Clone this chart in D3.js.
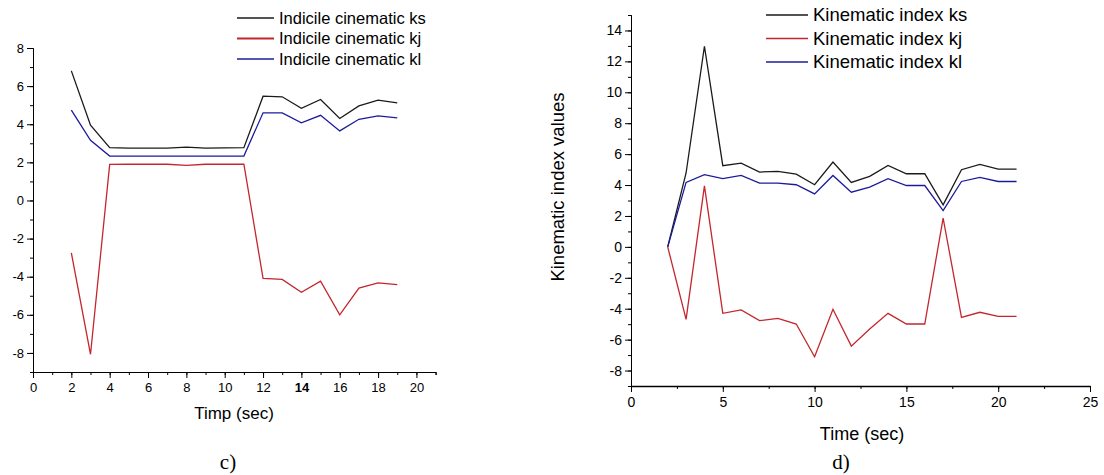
<!DOCTYPE html>
<html>
<head>
<meta charset="utf-8">
<title>Kinematic indices</title>
<style>
  body { margin: 0; background: #fff; }
  svg { display: block; font-family: "Liberation Sans", Arial, sans-serif; }
  .axis path, .axis line { stroke: #000; }
  .axis text { fill: #000; }
  .caption { font-family: "Liberation Serif", "Times New Roman", serif; font-size: 21px; }
</style>
<script src="https://d3js.org/d3.v7.min.js"></script>
</head>
<body>
<svg id="chart" width="1104" height="475"></svg>
<script>
// ---- panel c) ----
var timeC = [2, 3, 4, 5, 6, 7, 8, 9, 10, 11, 12, 13, 14, 15, 16, 17, 18, 19];
var ksC = [6.8, 3.95, 2.77, 2.75, 2.75, 2.75, 2.8, 2.75, 2.76, 2.77, 5.47, 5.44, 4.84, 5.3, 4.3, 4.96, 5.26, 5.12];
var kjC = [-2.75, -8.07, 1.89, 1.9, 1.9, 1.9, 1.84, 1.9, 1.9, 1.9, -4.09, -4.14, -4.82, -4.23, -6.0, -4.6, -4.32, -4.42];
var klC = [4.74, 3.16, 2.33, 2.33, 2.33, 2.33, 2.33, 2.33, 2.33, 2.33, 4.6, 4.6, 4.07, 4.47, 3.65, 4.26, 4.44, 4.33];
var namesC = ["Indicile cinematic ks", "Indicile cinematic kj", "Indicile cinematic kl"];

// ---- panel d) ----
var timeD = [2, 3, 4, 5, 6, 7, 8, 9, 10, 11, 12, 13, 14, 15, 16, 17, 18, 19, 20, 21];
var ksD = [0, 4.78, 12.98, 5.25, 5.42, 4.84, 4.88, 4.71, 4.02, 5.49, 4.17, 4.56, 5.27, 4.73, 4.73, 2.72, 4.99, 5.33, 5.03, 5.03];
var kjD = [0, -4.69, 3.95, -4.3, -4.08, -4.77, -4.63, -4.99, -7.11, -4.04, -6.42, -5.31, -4.3, -4.99, -4.99, 1.86, -4.56, -4.23, -4.5, -4.5];
var klD = [0, 4.17, 4.67, 4.41, 4.62, 4.13, 4.13, 4.02, 3.43, 4.62, 3.54, 3.87, 4.41, 3.97, 3.97, 2.35, 4.23, 4.49, 4.23, 4.23];
var namesD = ["Kinematic index ks", "Kinematic index kj", "Kinematic index kl"];

var colors = ["#1a1a1a", "#c4262e", "#1c1c9a"];

var svg = d3.select("#chart");
var plain = function (d) { return String(d); };   // hyphen minus like the original

function panel(o) {
  var g = svg.append("g");
  var x = d3.scaleLinear().domain(o.xDomain).range([o.left, o.right]);
  var y = d3.scaleLinear().domain(o.yDomain).range([o.bottom, o.top]);

  // minor ticks
  var yMinor = d3.axisLeft(y).tickValues(d3.range(o.yDomain[0], o.yDomain[1] + 0.01, 1)).tickSize(3).tickFormat("");
  var xMinor = d3.axisBottom(x).tickValues(d3.range(o.xDomain[0], o.xDomain[1] + 0.01, o.xMinor)).tickSize(3).tickFormat("");
  g.append("g").attr("class", "axis").attr("transform", "translate(" + o.left + ",0)").call(yMinor);
  g.append("g").attr("class", "axis").attr("transform", "translate(0," + o.bottom + ")").call(xMinor);

  var yAxis = d3.axisLeft(y).tickValues(d3.range(-8, o.yDomain[1] + 0.01, 2))
    .tickSize(6).tickSizeOuter(0).tickPadding(3).tickFormat(plain);
  var xAxis = d3.axisBottom(x).tickValues(d3.range(0, o.xDomain[1] + 0.01, o.xMajor))
    .tickSize(6).tickSizeOuter(0).tickPadding(5).tickFormat(plain);
  var ya = g.append("g").attr("class", "axis").attr("transform", "translate(" + o.left + ",0)").call(yAxis);
  var xa = g.append("g").attr("class", "axis").attr("transform", "translate(0," + o.bottom + ")").call(xAxis);
  xa.select(".domain").attr("stroke-width", o.xAxisWidth).attr("stroke", o.xAxisColor);
  ya.selectAll("text").style("font-size", o.tickFont);
  xa.selectAll("text").style("font-size", o.tickFont);
  if (o.boldTick != null) {
    xa.selectAll(".tick").filter(function (d) { return d === o.boldTick; })
      .select("text").style("font-weight", "bold");
  }

  var line = d3.line().x(function (d) { return x(d[0]); }).y(function (d) { return y(d[1]); });
  o.series.forEach(function (s, i) {
    g.append("path")
      .datum(o.time.map(function (t, j) { return [t, s[j]]; }))
      .attr("fill", "none")
      .attr("stroke", colors[i])
      .attr("stroke-width", 1.3)
      .attr("stroke-linejoin", "miter")
      .attr("d", line);
  });

  // legend
  o.names.forEach(function (n, i) {
    var ly = o.legY + i * o.legStep;
    g.append("line")
      .attr("x1", o.legX).attr("x2", o.legX + o.legLen)
      .attr("y1", ly).attr("y2", ly)
      .attr("stroke", colors[i]).attr("stroke-width", i === 1 && o.thickRed ? 2.2 : 1.5);
    g.append("text")
      .attr("x", o.legX + o.legLen + 5).attr("y", ly)
      .attr("dy", "0.35em")
      .style("font-size", o.legFont)
      .text(n);
  });

  g.append("text")
    .attr("x", o.xLabelX).attr("y", o.xLabelY)
    .attr("text-anchor", "middle")
    .style("font-size", o.labelFont)
    .text(o.xLabel);

  if (o.yLabel) {
    g.append("text")
      .attr("transform", "translate(" + o.yLabelX + "," + o.yLabelY + ") rotate(-90)")
      .attr("text-anchor", "middle")
      .style("font-size", o.yLabelFont)
      .text(o.yLabel);
  }

  g.append("text")
    .attr("class", "caption")
    .attr("x", o.capX).attr("y", 469)
    .attr("text-anchor", "middle")
    .text(o.caption);
}

panel({
  xDomain: [0, 21], yDomain: [-9, 8],
  left: 33, right: 435.6, top: 48, bottom: 372,
  xMajor: 2, xMinor: 1, xAxisWidth: 1, xAxisColor: "#000",
  tickFont: "13px", boldTick: 14,
  time: timeC, series: [ksC, kjC, klC], names: namesC, thickRed: true,
  legX: 237, legLen: 37, legY: 18, legStep: 20.5, legFont: "16.5px",
  xLabel: "Timp (sec)", xLabelX: 234, xLabelY: 419, labelFont: "17px",
  caption: "c)", capX: 228
});

panel({
  xDomain: [0, 25], yDomain: [-9, 15],
  left: 631, right: 1090, top: 15, bottom: 386,
  xMajor: 5, xMinor: 2.5, xAxisWidth: 1.6, xAxisColor: "#444",
  tickFont: "14px", boldTick: null,
  time: timeD, series: [ksD, kjD, klD], names: namesD, thickRed: false,
  legX: 766, legLen: 42, legY: 15, legStep: 23.5, legFont: "18.5px",
  xLabel: "Time (sec)", xLabelX: 862, xLabelY: 440, labelFont: "18px",
  yLabel: "Kinematic index values", yLabelX: 564, yLabelY: 187, yLabelFont: "18.5px",
  caption: "d)", capX: 841
});
</script>
</body>
</html>
